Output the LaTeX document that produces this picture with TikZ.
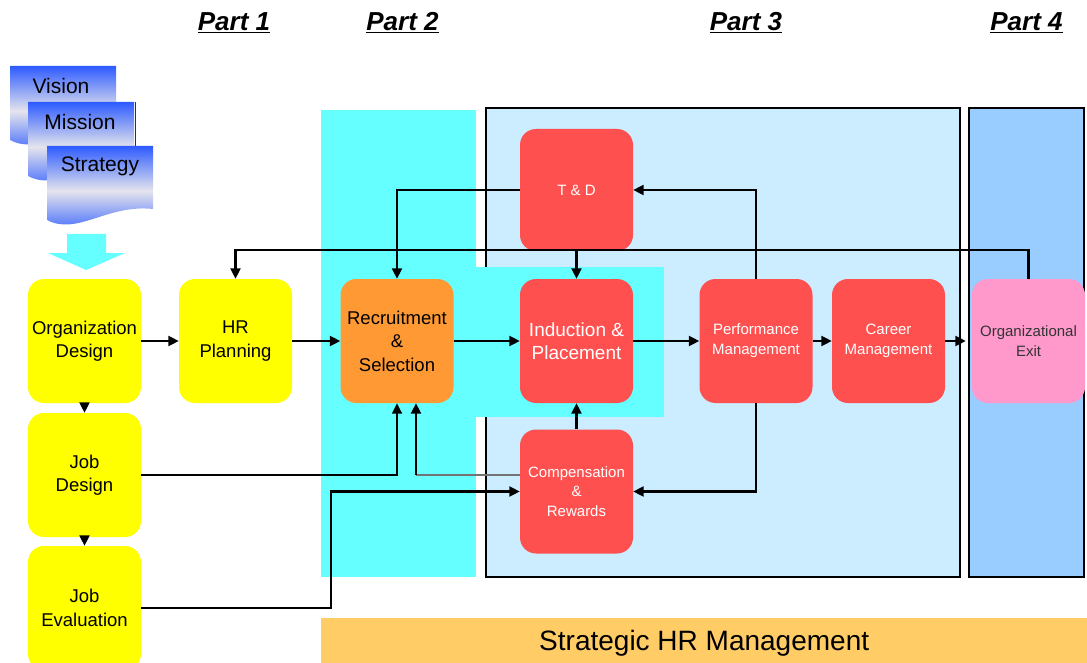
\documentclass[tikz,border=0pt]{standalone}
\usepackage{fontspec}
\setmainfont{Liberation Sans}
\usetikzlibrary{arrows.meta}
\definecolor{cyanp}{HTML}{66FFFF}
\definecolor{pthree}{HTML}{CCECFF}
\definecolor{pfour}{HTML}{99CCFF}
\definecolor{bann}{HTML}{FFCC66}
\definecolor{yel}{HTML}{FFFF00}
\definecolor{ora}{HTML}{FF9933}
\definecolor{redb}{HTML}{FF5050}
\definecolor{pinkb}{HTML}{FF99CC}
\definecolor{docblue}{HTML}{2E5BFF}
\definecolor{docmid}{HTML}{E4E4EC}
\begin{document}
\begin{tikzpicture}[x=1pt,y=-1pt,
  box/.style={rounded corners=16pt, minimum width=113pt, minimum height=124pt, inner sep=0pt, align=center, font=\fontsize{18.5}{23.5}\selectfont},
  smalltxt/.style={font=\fontsize{15}{20}\selectfont},
  redbox/.style={box, fill=redb, text=white},
  arr/.style={line width=2.1pt, -{Triangle[length=10.5pt,width=10pt]}},
  panel/.style={line width=1.4pt, draw=black},
  partlbl/.style={anchor=base, font=\fontsize{26}{30}\selectfont\bfseries\itshape},
  docsh/.style={top color=docblue, bottom color=docblue, middle color=docmid},
  doctxt/.style={font=\fontsize{21}{25}\selectfont}
]
\useasboundingbox (0,0) rectangle (1087,663);

% part labels
\node[partlbl] (p1) at (234,31) {\underline{Part 1}};
\node[partlbl] (p2) at (402.5,31) {\underline{Part 2}};
\node[partlbl] (p3) at (746,31) {\underline{Part 3}};
\node[partlbl] (p4) at (1026.5,31) {\underline{Part 4}};

% panels
\fill[cyanp] (321,110) rectangle (476,577);
\filldraw[panel, fill=pthree] (486,108) rectangle (960,577);
\fill[cyanp] (476,267) rectangle (664,417);
\filldraw[panel, fill=pfour] (969,108) rectangle (1084,577);
\node[fill=bann, minimum width=766pt, minimum height=45pt, anchor=north west, inner sep=0pt,
  text depth=0pt, font=\fontsize{28}{32}\selectfont] (banner) at (321,618) {Strategic HR Management};

% vision / mission / strategy
\begin{scope}[shift={(10,66)}]
  \shade[docsh] (0,0) -- (106,0) -- (106,63) .. controls (60,58) and (30,90) .. (0,74) -- cycle;
  \node[doctxt] (vis) at (51,20) {Vision};
\end{scope}
\begin{scope}[shift={(28,102)}]
  \shade[docsh] (0,0) -- (106,0) -- (106,63) .. controls (60,58) and (30,90) .. (0,74) -- cycle;
  \draw[black!80, line width=1pt] (107,0) -- (107,44);
  \node[doctxt] (mis) at (52,20) {Mission};
\end{scope}
\begin{scope}[shift={(47,146)}]
  \shade[docsh] (0,0) -- (106,0) -- (106,63) .. controls (60,58) and (30,90) .. (0,74) -- cycle;
  \node[doctxt] (str) at (53,20) {Strategy};
\end{scope}
\fill[cyanp] (67,234) -- (106,234) -- (106,253) -- (125,253) -- (86,270) -- (48,253) -- (67,253) -- cycle;

% nodes
\node[box, fill=yel] (org) at (84.5,341) {Organization\\Design};
\node[box, fill=yel] (hrp) at (235.5,341) {HR\\Planning};
\node[box, fill=ora] (rec) at (397,341) {Recruitment\\\&\\Selection};
\node[redbox, smalltxt, minimum height=122pt] (td) at (576.5,190) {T \& D};
\node[redbox, font=\fontsize{19}{23}\selectfont] (ind) at (576.5,341) {Induction \&\\Placement};
\node[redbox, font=\fontsize{15}{19.5}\selectfont] (comp) at (576.5,491.5) {Compensation\\\&\\Rewards};
\node[redbox, smalltxt] (perf) at (756,341) {Performance\\Management};
\node[redbox, smalltxt] (car) at (888.5,341) {Career\\Management};
\node[box, smalltxt, fill=pinkb, text=black!80] (exit) at (1028.5,341) {Organizational\\Exit};
\node[box, fill=yel] (jd) at (84.5,475) {Job\\Design};
\node[box, fill=yel] (je) at (84.5,608) {Job\\Evaluation};

% connectors
\draw[arr] (org) -- (hrp);
\draw[arr] (hrp) -- (rec);
\draw[arr] (rec) -- (ind);
\draw[arr] (ind) -- (perf);
\draw[arr] (perf) -- (car);
\draw[arr, shorten >=6pt] (car) -- (exit);
\draw[arr] (org) -- (jd);
\draw[arr] (jd) -- (je);
\draw[arr] (exit.north) -- ++(0,-29) -| (hrp.north);
\draw[arr] (perf.north) |- (td.east);
\draw[arr] (td.west) -| (rec.north);
\draw[arr] (td) -- (ind);
\draw[arr] (comp) -- (ind);
\draw[arr] (perf.south) |- (comp.east);
\draw[arr, line width=1.6pt] (jd.east) -| (rec.south);
\coordinate (c1) at (416,475);
\draw[line width=1.6pt, black!55] (comp.west |- c1) -- (c1);
\draw[arr] (c1) -- (c1 |- rec.south);
\coordinate (c2) at (331,608);
\draw[arr] (je.east) -- (c2) |- (comp.west);
\end{tikzpicture}
\end{document}
